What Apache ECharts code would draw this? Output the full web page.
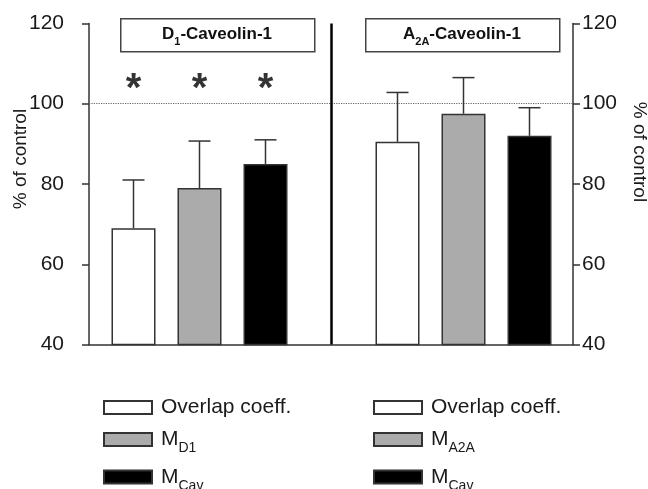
<!DOCTYPE html>
<html>
<head>
<meta charset="utf-8">
<script src="https://cdn.jsdelivr.net/npm/echarts@6/dist/echarts.min.js"></script>
<style>html,body{margin:0;padding:0;background:#fff}#c{width:648px;height:489px}</style>
</head>
<body>
<div id="c"></div>
<script>
// ---- data ----
var categories = ['Overlap coeff.', 'M_D1', 'M_Cav', '', 'Overlap coeff.', 'M_A2A', 'M_Cav'];
var d1Names = ['Overlap coeff.', 'M_D1', 'M_Cav'];
var a2aNames = ['Overlap coeff.', 'M_A2A', 'M_Cav'];
var d1Means = [69, 79, 85];
var d1Upper = [81, 90.7, 91];
var a2aMeans = [90.5, 97.5, 92];
var a2aUpper = [102.8, 106.5, 99];
var sigMarks = ['*', '*', '*', '', '', '', ''];
var sigLevel = 105;
var refLevel = 100;
var yTicks = [40, 60, 80, 100, 120];
var panelTitles = ['D1', 'A2A'];

// ---- styles ----
var FONT = '"Liberation Sans", Arial, sans-serif';
var fills = ['#ffffff', '#ababab', '#000000'];
var AX = '#333333';

var chart = echarts.init(document.getElementById('c'));

function one(idx, val) {
  return categories.map(function (c, j) { return j === idx ? val : '-'; });
}

var series = [];
d1Names.forEach(function (n, i) {
  series.push({
    type: 'bar', name: n, xAxisIndex: 1, yAxisIndex: 2,
    data: one(i, d1Means[i]), barWidth: 44, barGap: '-100%',
    itemStyle: { color: fills[i], borderColor: AX, borderWidth: 1.5 }
  });
});
a2aNames.forEach(function (n, i) {
  series.push({
    type: 'bar', name: n, xAxisIndex: 1, yAxisIndex: 2,
    data: one(i + 4, a2aMeans[i]), barWidth: 44, barGap: '-100%',
    itemStyle: { color: fills[i], borderColor: AX, borderWidth: 1.5 }
  });
});

var errData = [];
d1Means.forEach(function (m, i) { errData.push([i, m, d1Upper[i]]); });
a2aMeans.forEach(function (m, i) { errData.push([i + 4, m, a2aUpper[i]]); });

series.push({
  type: 'custom', xAxisIndex: 1, yAxisIndex: 2, z: 5, silent: true,
  data: errData,
  renderItem: function (params, api) {
    var x = api.value(0), m = api.value(1), u = api.value(2);
    var p0 = api.coord([x, m]);
    var p1 = api.coord([x, u]);
    var hw = 11;
    var st = { stroke: AX, lineWidth: 1.5 };
    return {
      type: 'group', children: [
        { type: 'line', shape: { x1: p0[0], y1: p0[1], x2: p1[0], y2: p1[1] }, style: st },
        { type: 'line', shape: { x1: p1[0] - hw, y1: p1[1], x2: p1[0] + hw, y2: p1[1] }, style: st }
      ]
    };
  }
});

// significance asterisks
series.push({
  type: 'scatter', xAxisIndex: 1, yAxisIndex: 2, symbolSize: 0, silent: true,
  data: sigMarks.map(function (s) { return s ? sigLevel : '-'; }),
  label: {
    show: true, position: 'inside',
    formatter: function (p) { return sigMarks[p.dataIndex]; },
    fontSize: 40, fontWeight: 'bold', color: '#000', fontFamily: FONT, offset: [0, 6]
  }
});

// reference line + divider
series.push({
  type: 'line', xAxisIndex: 0, yAxisIndex: 0, data: [], silent: true,
  markLine: {
    silent: true, symbol: 'none', label: { show: false },
    lineStyle: { type: 'dotted', color: '#666', width: 1.2 },
    data: [{ yAxis: refLevel }]
  }
});
series.push({
  type: 'line', xAxisIndex: 1, yAxisIndex: 2, data: [], silent: true,
  markLine: {
    silent: true, symbol: 'none', label: { show: false },
    lineStyle: { type: 'solid', color: '#000', width: 2.5 },
    data: [{ xAxis: 3 }]
  }
});

function legendFmt(name) {
  if (name === 'M_D1') return '{m|M}{s|D1}';
  if (name === 'M_A2A') return '{m|M}{s|A2A}';
  if (name === 'M_Cav') return '{m|M}{s|Cav}';
  return '{m|' + name + '}';
}
var legendText = {
  fontFamily: FONT, color: '#1a1a1a', padding: [0, 0, 0, 4],
  rich: {
    m: { fontSize: 21, fontFamily: FONT, color: '#1a1a1a', lineHeight: 22 },
    s: { fontSize: 14, fontFamily: FONT, color: '#1a1a1a', verticalAlign: 'bottom', lineHeight: 17, padding: [0, 0, -5, 0] }
  }
};

var yBase = {
  min: yTicks[0], max: yTicks[yTicks.length - 1], interval: 20, type: 'value',
  splitLine: { show: false }
};

var option = {
  animation: false,
  backgroundColor: '#ffffff',
  textStyle: { fontFamily: FONT },
  grid: [
    { left: 89, right: 75, top: 23.4, bottom: 144.4, outerBoundsMode: 'none', containLabel: false },
    { left: 100.5, right: 85.5, top: 23.4, bottom: 144.4, outerBoundsMode: 'none', containLabel: false }
  ],
  xAxis: [
    {
      gridIndex: 0, type: 'category', data: [''],
      axisLine: { show: true, lineStyle: { color: AX, width: 1.5 } },
      axisTick: { show: false }, axisLabel: { show: false }
    },
    {
      gridIndex: 1, type: 'category', data: categories, show: false
    }
  ],
  yAxis: [
    Object.assign({}, yBase, {
      gridIndex: 0, position: 'left',
      name: '% of control', nameLocation: 'middle', nameGap: 59, nameRotate: 90, nameMoveOverlap: false,
      nameTextStyle: { fontSize: 19, color: '#1a1a1a', fontFamily: FONT, padding: [0, 0, 0, 50] },
      axisLine: { show: true, lineStyle: { color: AX, width: 1.5 } },
      axisTick: { show: true, length: 7, lineStyle: { color: AX, width: 1.5 } },
      axisLabel: { fontSize: 21, color: '#1a1a1a', margin: 25, fontFamily: FONT }
    }),
    Object.assign({}, yBase, {
      gridIndex: 0, position: 'right',
      name: '% of control', nameLocation: 'middle', nameGap: 57, nameRotate: -90, nameMoveOverlap: false,
      nameTextStyle: { fontSize: 19, color: '#1a1a1a', fontFamily: FONT, padding: [0, 64, 0, 0] },
      axisLine: { show: true, lineStyle: { color: AX, width: 1.5 } },
      axisTick: { show: true, length: 7, lineStyle: { color: AX, width: 1.5 } },
      axisLabel: { fontSize: 21, color: '#1a1a1a', margin: 9, fontFamily: FONT }
    }),
    Object.assign({}, yBase, { gridIndex: 1, show: false })
  ],
  legend: [
    {
      orient: 'vertical', left: 103, top: 397, height: 200, padding: 0, itemWidth: 48, itemHeight: 13, itemGap: 11,
      icon: 'rect', data: d1Names, selectedMode: false,
      formatter: legendFmt, textStyle: legendText
    },
    {
      orient: 'vertical', left: 373, top: 397, height: 200, padding: 0, itemWidth: 48, itemHeight: 13, itemGap: 11,
      icon: 'rect', data: a2aNames, selectedMode: false,
      formatter: legendFmt, textStyle: legendText
    }
  ],
  graphic: [
    { type: 'rect', left: 120, top: 18, shape: { width: 194, height: 33 }, style: { fill: '#fff', stroke: '#444', lineWidth: 1.5 } },
    { type: 'rect', left: 365, top: 18, shape: { width: 194, height: 33 }, style: { fill: '#fff', stroke: '#444', lineWidth: 1.5 } }
  ],
  series: series
};

// panel title texts
var boxes = [120, 365];
panelTitles.forEach(function (t, i) {
  option.graphic.push({
    type: 'text', x: boxes[i] + 97, y: 34.5,
    style: {
      text: '{b|' + t.charAt(0) + '}{s|' + t.slice(1) + '}{b|-Caveolin-1}',
      align: 'center', verticalAlign: 'middle',
      rich: {
        b: { fontSize: 17, fontWeight: 'bold', fontFamily: FONT, fill: '#111', lineHeight: 20 },
        s: { fontSize: 11, fontWeight: 'bold', fontFamily: FONT, fill: '#111', verticalAlign: 'bottom', lineHeight: 20, padding: [0, 0, -3, 0] }
      }
    }
  });
});

chart.setOption(option);
</script>
</body>
</html>
